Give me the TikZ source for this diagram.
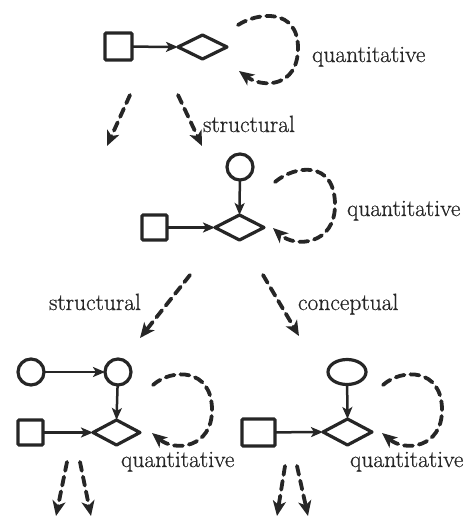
\documentclass[tikz,border=0pt]{standalone}
\usepackage{fontspec}
\newfontfamily\lblfont{Latin Modern Roman}[FakeBold=0.6]
\usetikzlibrary{shapes.geometric,arrows.meta}
\definecolor{ink}{HTML}{262626}
\tikzset{
  every node/.style={inner sep=0pt,outer sep=0pt},
  sqbox/.style={draw=ink,line width=3.2pt,rounded corners=1.2pt,minimum width=#1,minimum height=25pt},
  sqbox/.default=25pt,
  circ/.style={draw=ink,line width=3.2pt,circle,minimum size=26pt},
  ell/.style={draw=ink,line width=3.2pt,ellipse,minimum width=38pt,minimum height=25pt},
  dia/.style={draw=ink,line width=3.2pt,diamond,minimum width=49pt,minimum height=25pt,line join=round},
  solidarrow/.style={draw=ink,line width=2.5pt,-{Stealth[length=12pt,width=10pt,inset=3pt]}},
  dasharrow/.style={draw=ink,line width=3.8pt,dash pattern=on 9pt off 6pt,line cap=round,-{Stealth[length=15pt,width=13pt,inset=4pt,line cap=butt]}},
  lbl/.style={font=\lblfont\fontsize{23.5}{27}\selectfont,text=ink,anchor=base west}
}
\begin{document}
\begin{tikzpicture}[x=1pt,y=-1pt]
\useasboundingbox (0,0) rectangle (465,519);
% ---------- top ----------
\node[sqbox=27pt,minimum height=27pt] (s1) at (118.5,46.5) {};
\node[dia,minimum height=24pt] (d1) at (202.5,47) {};
\draw[solidarrow] (s1) -- (d1.west);
\coordinate (l1s) at (238,25);
\coordinate (l1e) at (239,71);
\draw[dasharrow] (l1s) .. controls (258,12) and (298,8) .. (298,48) .. controls (298,88) and (262,88) .. (l1e);
\node[lbl] (q1) at (312,62) {quantitative};
\coordinate (a1s) at (130,95);
\coordinate (a1e) at (107,146);
\coordinate (a2s) at (178,95);
\coordinate (a2e) at (202,146);
\draw[dasharrow] (a1s) -- (a1e);
\draw[dasharrow] (a2s) -- (a2e);
\node[lbl] (t1) at (203,132) {structural};
% ---------- middle ----------
\node[circ] (c2) at (240,167) {};
\node[sqbox] (s2) at (154.5,227.5) {};
\node[dia] (d2) at (239.5,227.5) {};
\draw[solidarrow] (s2) -- (d2.west);
\draw[solidarrow] (c2) -- (d2.north);
\coordinate (l2s) at (275,182);
\coordinate (l2e) at (273,228);
\draw[dasharrow] (l2s) .. controls (295,165) and (335,160) .. (335,205) .. controls (335,245) and (295,248) .. (l2e);
\node[lbl] (q2) at (347,216) {quantitative};
\coordinate (b1s) at (190,275);
\coordinate (b1e) at (140,338);
\coordinate (b2s) at (263,275);
\coordinate (b2e) at (299,336);
\draw[dasharrow] (b1s) -- (b1e);
\draw[dasharrow] (b2s) -- (b2e);
\node[lbl] (t2) at (49,310) {structural};
\node[lbl] (t3) at (298,310) {conceptual};
% ---------- bottom left ----------
\node[circ] (c3a) at (31,372) {};
\node[circ] (c3b) at (118,372) {};
\node[sqbox] (s3) at (30.5,432.5) {};
\node[dia,minimum width=47pt] (d3) at (116.5,432.5) {};
\draw[solidarrow] (c3a) -- (c3b);
\draw[solidarrow] (c3b) -- (d3.north);
\draw[solidarrow] (s3) -- (d3.west);
\coordinate (l3s) at (153,385);
\coordinate (l3e) at (152,433);
\draw[dasharrow] (l3s) .. controls (172,368) and (212,368) .. (212,410) .. controls (212,448) and (175,452) .. (l3e);
\node[lbl] (q3) at (121,467) {quantitative};
\coordinate (e1s) at (67,462);
\coordinate (e1e) at (56,516);
\coordinate (e2s) at (80,462);
\coordinate (e2e) at (91,516);
\draw[dasharrow] (e1s) -- (e1e);
\draw[dasharrow] (e2s) -- (e2e);
% ---------- bottom right ----------
\node[ell] (c4) at (347,372) {};
\node[sqbox=33pt,minimum height=27pt] (s4) at (258.5,432.5) {};
\node[dia,minimum height=26pt] (d4) at (347.5,432) {};
\draw[solidarrow] (c4) -- (d4.north);
\draw[solidarrow] (s4) -- (d4.west);
\coordinate (l4s) at (383,385);
\coordinate (l4e) at (382,433);
\draw[dasharrow] (l4s) .. controls (402,368) and (442,368) .. (442,410) .. controls (442,448) and (405,452) .. (l4e);
\node[lbl] (q4) at (350,467) {quantitative};
\coordinate (f1s) at (285,466);
\coordinate (f1e) at (277,516);
\coordinate (f2s) at (297,466);
\coordinate (f2e) at (308,516);
\draw[dasharrow] (f1s) -- (f1e);
\draw[dasharrow] (f2s) -- (f2e);
\end{tikzpicture}
\end{document}
